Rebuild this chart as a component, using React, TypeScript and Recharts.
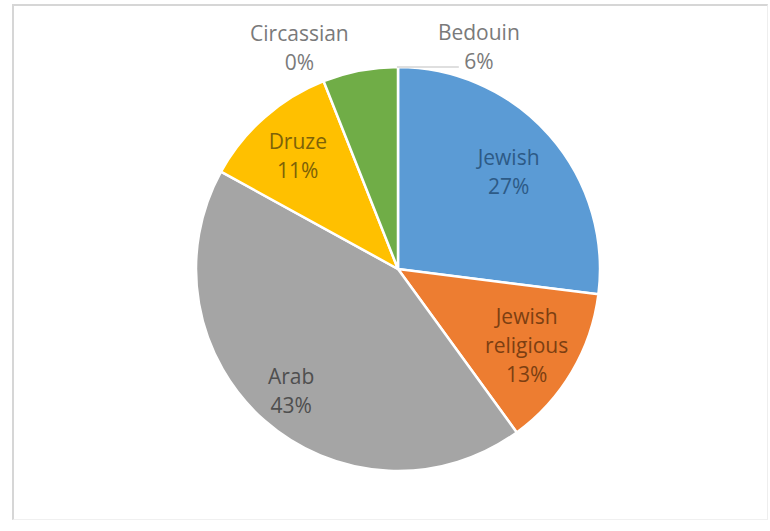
import { PieChart, Pie, Cell } from 'recharts';

const groups = ['Jewish', 'Jewish religious', 'Arab', 'Druze', 'Circassian', 'Bedouin'];
const shares = [27, 13, 43, 11, 0, 6];

const sliceColors = ['#5B9BD5', '#ED7D31', '#A5A5A5', '#FFC000', '#4472C4', '#70AD47'];
const textColors = ['#2d5a86', '#7c3f12', '#4f4f4f', '#7d6208', '#7a7a7a', '#7a7a7a'];

const data = groups.map((name, i) => ({ name, value: shares[i] }));

const RAD = Math.PI / 180;
const FONT = '"Open Sans", sans-serif';

// where each label sits, as fraction of radius and optional angle override
const labelPlace: Record<string, { k: number; angle?: number; outside?: boolean }> = {
  Jewish: { k: 0.73 },
  'Jewish religious': { k: 0.74 },
  Arab: { k: 0.8 },
  Druze: { k: 0.75 },
  Circassian: { k: 1.2, angle: 114, outside: true },
  Bedouin: { k: 1.17, angle: 70, outside: true },
};

const splitName = (name: string) => (name === 'Jewish religious' ? ['Jewish', 'religious'] : [name]);

function renderLabel(props: any) {
  const { cx, cy, midAngle, outerRadius, index, name, percent } = props;
  const place = labelPlace[name] || { k: 0.75 };
  const ang = place.angle !== undefined ? place.angle : midAngle;
  const r = outerRadius * place.k;
  const x = cx + r * Math.cos(ang * RAD);
  const y = cy - r * Math.sin(ang * RAD);
  const lines = [...splitName(name), `${Math.round(percent * 100)}%`];
  const lh = 29;
  const y0 = y - ((lines.length - 1) * lh) / 2;
  let leader = null;
  if (name === 'Bedouin') {
    const ex = cx + outerRadius * Math.cos(90.3 * RAD);
    const ey = cy - outerRadius * Math.sin(90.3 * RAD);
    leader = <line x1={ex} y1={ey} x2={x - 20} y2={ey} stroke="#bfbfbf" strokeWidth={1} />;
  }
  return (
    <g key={`lbl-${index}`}>
      {leader}
      <text
        x={x}
        y={y0}
        textAnchor="middle"
        dominantBaseline="central"
        fill={textColors[index]}
        style={{ fontFamily: FONT, fontSize: 21 }}
      >
        {lines.map((t, j) => (
          <tspan key={j} x={x} dy={j === 0 ? 0 : lh}>
            {t}
          </tspan>
        ))}
      </text>
    </g>
  );
}

export default function App() {
  return (
    <div style={{ position: 'absolute', left: 0, top: 0, width: 770, height: 531, background: '#fff' }}>
      <div
        style={{
          position: 'absolute',
          left: 12,
          top: 4,
          width: 756,
          height: 516,
          borderTop: '2px solid #d6d6d6',
          borderLeft: '2px solid #d6d6d6',
          borderRight: '1px solid #eeeeee',
          borderBottom: '1px solid #f0f0f0',
          boxSizing: 'border-box',
        }}
      />
      <div style={{ position: 'absolute', left: 0, top: 0 }}>
        <PieChart width={770} height={531} margin={{ top: 0, right: 0, bottom: 0, left: 0 }}>
          <Pie
            data={data}
            dataKey="value"
            nameKey="name"
            cx={398}
            cy={269}
            outerRadius={202}
            startAngle={90}
            endAngle={-270}
            stroke="#ffffff"
            strokeWidth={2.5}
            label={renderLabel}
            labelLine={false}
            isAnimationActive={false}
          >
            {data.map((d, i) => (
              <Cell key={d.name} fill={sliceColors[i]} />
            ))}
          </Pie>
        </PieChart>
      </div>
    </div>
  );
}
